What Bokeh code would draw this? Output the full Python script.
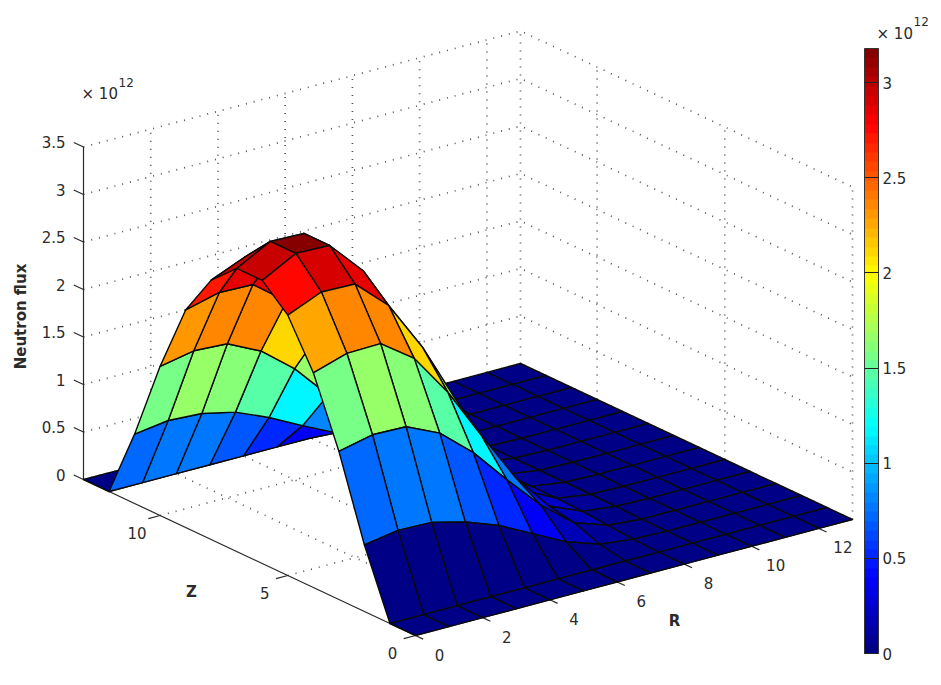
import numpy as np
from bokeh.plotting import figure
from bokeh.models import ColorBar, ColumnDataSource, FixedTicker, LinearColorMapper, Range1d
from bokeh.core.properties import value
from bokeh.embed import file_html
from bokeh.resources import INLINE

r_nodes = list(range(14))
z_nodes = list(range(14))
flux_z00 = [0, 0, 0, 0, 0, 0, 0, 0, 0, 0, 0, 0, 0, 0]
flux_z01 = [0, 0, 0, 0, 0, 0, 0, 0, 0, 0, 0, 0, 0, 0]
flux_z02 = [.70, .76, .75, .66, .53, .35, .17, .05, .01, 0, 0, 0, 0, 0]
flux_z03 = [1.56, 1.64, 1.63, 1.47, 1.17, .79, .43, .15, .03, 0, 0, 0, 0, 0]
flux_z04 = [2.26, 2.37, 2.38, 2.13, 1.68, 1.13, .60, .20, .05, .01, 0, 0, 0, 0]
flux_z05 = [2.74, 2.89, 2.88, 2.56, 2.03, 1.38, .72, .24, .06, .01, 0, 0, 0, 0]
flux_z06 = [2.98, 3.17, 3.16, 2.80, 2.22, 1.50, .78, .26, .06, .01, 0, 0, 0, 0]
flux_z07 = [2.98, 3.17, 3.16, 2.80, 2.22, 1.50, .78, .26, .06, .01, 0, 0, 0, 0]
flux_z08 = [2.73, 2.88, 2.87, 2.55, 2.03, 1.37, .71, .24, .06, .01, 0, 0, 0, 0]
flux_z09 = [2.29, 2.38, 2.37, 2.10, 1.68, 1.13, .60, .20, .05, .01, 0, 0, 0, 0]
flux_z10 = [1.57, 1.64, 1.62, 1.45, 1.17, .80, .43, .15, .03, 0, 0, 0, 0, 0]
flux_z11 = [.73, .78, .76, .68, .53, .35, .18, .05, .01, 0, 0, 0, 0, 0]
flux_z12 = [0, 0, 0, 0, 0, 0, 0, 0, 0, 0, 0, 0, 0, 0]
flux_z13 = [0, 0, 0, 0, 0, 0, 0, 0, 0, 0, 0, 0, 0, 0]
flux = [flux_z00, flux_z01, flux_z02, flux_z03, flux_z04, flux_z05, flux_z06,
        flux_z07, flux_z08, flux_z09, flux_z10, flux_z11, flux_z12, flux_z13]

height_ticks = [0, 0.5, 1, 1.5, 2, 2.5, 3, 3.5]
height_labels = ["0", "0.5", "1", "1.5", "2", "2.5", "3", "3.5"]
r_ticks = [0, 2, 4, 6, 8, 10, 12]
z_ticks = [0, 5, 10]
bar_ticks = [0, 0.5, 1, 1.5, 2, 2.5, 3]
flux_max = 3.18
R_MAX, Z_MAX = 13, 13

FONT = value("DejaVu Sans")
TXT = "#2b2b2b"


def jet(n=64):
    t = (np.arange(n) + 0.5) / n
    xp = [0, .125, .375, .625, .875, 1]
    chan = lambda fp: np.interp(t, xp, fp)
    r, g, b = chan([0, 0, 0, 1, 1, .5]), chan([0, 0, 1, 1, 0, 0]), chan([.5, 1, 1, 0, 0, 0])
    return ["#%02x%02x%02x" % (int(a * 255), int(c * 255), int(d * 255)) for a, c, d in zip(r, g, b)]


def proj(r, z, h=0.0):
    """Orthographic view of the axes box, in image pixels."""
    x = 415 + r * 437 / 13 - z * 332 / 13
    y = 635 - r * 116 / 13 - z * 156 / 13 - h * 95
    return x, y


W, H = 933, 677
p = figure(width=W, height=H, output_backend="svg", toolbar_location=None,
           x_range=Range1d(0, W), y_range=Range1d(H, 0), min_border=0,
           outline_line_color=None, background_fill_color="white")
p.axis.visible = False
p.grid.visible = False

# dotted grid on the floor and the two back walls
xs, ys = [], []


def add(*pts):
    c = [proj(*q) for q in pts]
    xs.append([a for a, _ in c])
    ys.append([b for _, b in c])


top = height_ticks[-1]
for h in height_ticks:
    add((0, Z_MAX, h), (R_MAX, Z_MAX, h), (R_MAX, 0, h))
for r in r_ticks[1:] + [R_MAX]:
    add((r, Z_MAX, 0), (r, Z_MAX, top))
for z in z_ticks:
    add((R_MAX, z, 0), (R_MAX, z, top))
for r in r_ticks[1:]:
    add((r, 0, 0), (r, Z_MAX, 0))
for z in z_ticks[1:]:
    add((0, z, 0), (R_MAX, z, 0))
p.multi_line(xs, ys, line_color="#555555", line_width=1.7, line_dash="1 7")

# axis lines and ticks
ax, ay = [], []


def seg(a, b):
    ax.append([a[0], b[0]])
    ay.append([a[1], b[1]])


seg(proj(0, Z_MAX, 0), proj(0, Z_MAX, top))
seg(proj(0, 0, 0), proj(0, Z_MAX, 0))
seg(proj(0, 0, 0), proj(R_MAX, 0, 0))
for h in height_ticks:
    seg(proj(0, Z_MAX, h), proj(0, Z_MAX + 0.38, h))
for r in r_ticks:
    seg(proj(r, 0, 0), proj(r, -0.3, 0))
for z in z_ticks:
    seg(proj(0, z, 0), proj(-0.35, z, 0))
p.multi_line(ax, ay, line_color="#2a2a2a", line_width=1.2)

# surface: far cells first, flat colour from each cell's lowest-index corner
px, py, pv = [], [], []
for j in range(len(z_nodes) - 2, -1, -1):
    for i in range(len(r_nodes) - 2, -1, -1):
        corners = [(i, j), (i + 1, j), (i + 1, j + 1), (i, j + 1)]
        c = [proj(r_nodes[a], z_nodes[b], flux[b][a]) for a, b in corners]
        px.append([q[0] for q in c])
        py.append([q[1] for q in c])
        pv.append(flux[j][i])
mapper = LinearColorMapper(palette=jet(64), low=0, high=flux_max)
src = ColumnDataSource(dict(xs=px, ys=py, v=pv))
p.patches("xs", "ys", source=src, fill_color={"field": "v", "transform": mapper},
          line_color="#0a0a0a", line_width=1.4, line_join="round")


# tick labels
def labels(x, y, t, size="15px", align="center", baseline="middle", style="normal", angle=0):
    p.text(x, y, text=t, text_font=FONT, text_font_size=size, text_align=align,
           text_baseline=baseline, text_color=TXT, text_font_style=style, angle=angle)


lx, ly = zip(*[proj(0, Z_MAX, h) for h in height_ticks])
labels([a - 18 for a in lx], [b - 5 for b in ly], height_labels, align="right")
lx, ly = zip(*[proj(r, 0, 0) for r in r_ticks])
labels([a + 24 for a in lx], [b + 19 for b in ly], [str(r) for r in r_ticks])
lx, ly = zip(*[proj(0, z, 0) for z in z_ticks])
labels([a - 23 for a in lx], [b + 17 for b in ly], [str(z) for z in z_ticks])

labels([191], [591], ["Z"], style="bold")
labels([674], [620], ["R"], style="bold")
labels([20], [316], ["Neutron flux"], style="bold", angle=np.pi / 2)

labels([81], [93], ["\u00d7 10"], align="left")
labels([118], [82], ["12"], size="12px", align="left")
labels([876], [33], ["\u00d7 10"], align="left")
labels([913], [21], ["12"], size="12px", align="left")

# colour bar
bar = ColorBar(color_mapper=mapper, width=14, height=605, location=(864, 24),
               ticker=FixedTicker(ticks=bar_ticks), padding=0, margin=0,
               major_label_overrides={0: "0", 0.5: "0.5", 1: "1", 1.5: "1.5", 2: "2", 2.5: "2.5", 3: "3"},
               major_tick_in=14, major_tick_out=0, major_tick_line_color="#222222",
               bar_line_color="#333333", bar_line_width=1, border_line_color=None,
               background_fill_alpha=0, major_label_text_font="DejaVu Sans",
               major_label_text_font_size="15px", major_label_text_color=TXT, label_standoff=4)
p.add_layout(bar)

open("out.html", "w").write(file_html(p, INLINE))
